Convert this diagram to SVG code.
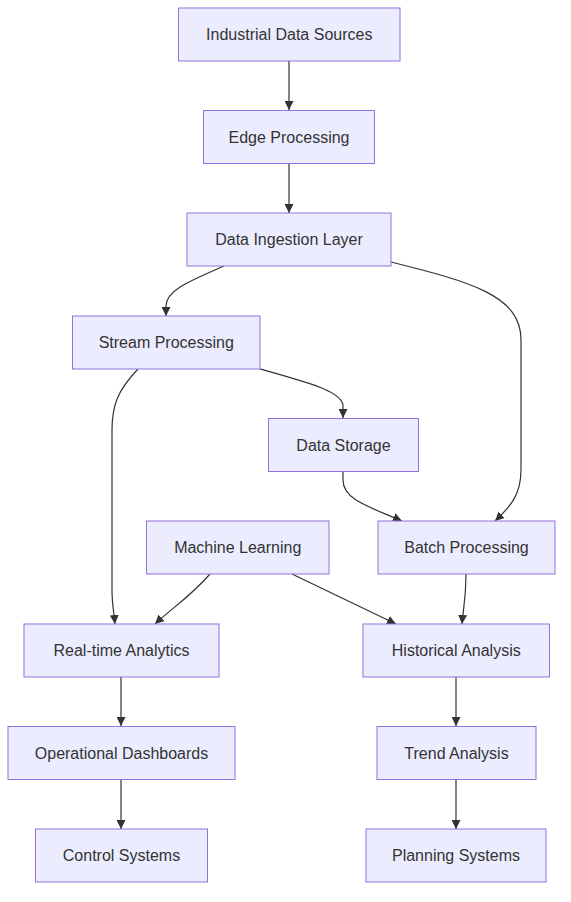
<svg xmlns="http://www.w3.org/2000/svg" width="571" height="902" viewBox="0 0 571 902">
<style>
.node rect{fill:#ECECFF;stroke:#9370DB;stroke-width:1}
.node text{font-family:"Liberation Sans",Arial,sans-serif;font-size:16px;fill:#333;text-anchor:middle;dominant-baseline:central}
.edges path{fill:none;stroke:#333;stroke-width:1.2}
</style>
<defs>
<marker id="arrow" viewBox="0 0 10 10" refX="10" refY="5" markerWidth="9" markerHeight="9" markerUnits="userSpaceOnUse" orient="auto">
<path d="M0,0 L10,5 L0,10 z" fill="#333"/>
</marker>
</defs>
<rect width="571" height="902" fill="#fff"/>
<g class="edges" marker-end="url(#arrow)">
<path d="M289,61 L289,110" marker-end="url(#arrow)"/>
<path d="M289,163 L289,213" marker-end="url(#arrow)"/>
<path d="M224,266 C190,281 166,290 166,306 L166,316" marker-end="url(#arrow)"/>
<path d="M391,262 C470,282 521,295 521,340 L521,470 C521,495 510,507 495,521" marker-end="url(#arrow)"/>
<path d="M260,369 C310,383 343,392 343,406 L343,418" marker-end="url(#arrow)"/>
<path d="M138,369 C118,390 112,405 112,430 L112,590 C112,605 114,612 115,624" marker-end="url(#arrow)"/>
<path d="M343,471 L343,480 C343,500 370,507 402,521" marker-end="url(#arrow)"/>
<path d="M210,574 C190,597 172,608 155,624" marker-end="url(#arrow)"/>
<path d="M292,574 L396,624" marker-end="url(#arrow)"/>
<path d="M466,574 C466,600 463,610 462,624" marker-end="url(#arrow)"/>
<path d="M121,677 L121,726" marker-end="url(#arrow)"/>
<path d="M456,677 L456,726" marker-end="url(#arrow)"/>
<path d="M121,780 L121,829" marker-end="url(#arrow)"/>
<path d="M456,780 L456,829" marker-end="url(#arrow)"/>
</g>
<g id="n1" class="node"><rect x="178.5" y="8" width="221.5" height="53"/><text x="289.25" y="34.5">Industrial Data Sources</text></g>
<g id="n2" class="node"><rect x="203.5" y="110.5" width="171" height="53"/><text x="289" y="137">Edge Processing</text></g>
<g id="n3" class="node"><rect x="187" y="213" width="204" height="53"/><text x="289" y="239.5">Data Ingestion Layer</text></g>
<g id="n4" class="node"><rect x="72.5" y="316" width="187.5" height="53"/><text x="166.25" y="342.5">Stream Processing</text></g>
<g id="n5" class="node"><rect x="268.5" y="418.5" width="150" height="53"/><text x="343.5" y="445">Data Storage</text></g>
<g id="n6" class="node"><rect x="146.5" y="521" width="182.5" height="53"/><text x="237.75" y="547.5">Machine Learning</text></g>
<g id="n7" class="node"><rect x="378" y="521" width="177" height="53"/><text x="466.5" y="547.5">Batch Processing</text></g>
<g id="n8" class="node"><rect x="24" y="624" width="195" height="53"/><text x="121.5" y="650.5">Real-time Analytics</text></g>
<g id="n9" class="node"><rect x="363" y="624" width="186.5" height="53"/><text x="456.25" y="650.5">Historical Analysis</text></g>
<g id="n10" class="node"><rect x="8" y="726.5" width="227" height="53"/><text x="121.5" y="753">Operational Dashboards</text></g>
<g id="n11" class="node"><rect x="377" y="726.5" width="159" height="53"/><text x="456.5" y="753">Trend Analysis</text></g>
<g id="n12" class="node"><rect x="35.5" y="829" width="172" height="53"/><text x="121.5" y="855.5">Control Systems</text></g>
<g id="n13" class="node"><rect x="366" y="829" width="180" height="53"/><text x="456" y="855.5">Planning Systems</text></g>
</svg>
